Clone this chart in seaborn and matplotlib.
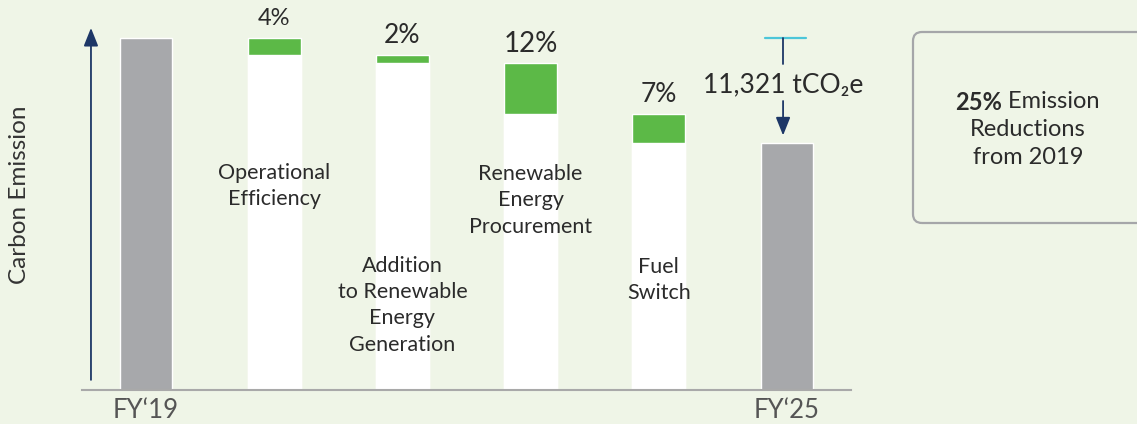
import numpy as np
import pandas as pd
import matplotlib.pyplot as plt
import seaborn as sns
from matplotlib.patches import FancyBboxPatch
from matplotlib.transforms import IdentityTransform

# data: emission level as % of FY'19, reductions
categories = ["FY‘19", "Operational\nEfficiency", "Addition\nto Renewable\nEnergy\nGeneration",
              "Renewable\nEnergy\nProcurement", "Fuel\nSwitch", "FY‘25"]
reductions = [4, 2, 12, 7]
start_level = 100
final_label = "11,321 tCO₂e"
box_lines = ["25%", "Emission", "Reductions", "from 2019"]

levels = [start_level]
for r in reductions:
    levels.append(levels[-1] - r)

df = pd.DataFrame({
    "step": categories,
    "total": [levels[0]] + [np.nan] * 4 + [levels[-1]],
    "before": [np.nan] + levels[:4] + [np.nan],
    "after": [np.nan] + levels[1:] + [np.nan],
})

BG = "#eff5e7"
GREEN = "#5cb947"
GREY = "#a7a8ab"
NAVY = "#1d3767"
CYAN = "#4cc6d9"
TXT = "#2b2b2b"

sns.set_style("white")
plt.rcParams["font.family"] = ["Lato", "DejaVu Sans"]

fig = plt.figure(figsize=(11.37, 4.24), dpi=100, facecolor=BG)
ax = fig.add_axes([82 / 1137, 34 / 424, 769 / 1137, 370 / 424])
ax.set_facecolor(BG)

w = 0.41
sns.barplot(data=df, x="step", y="before", order=categories, color=GREEN,
            width=w, saturation=1, errorbar=None, ax=ax)
sns.barplot(data=df, x="step", y="after", order=categories, color="white",
            width=w, saturation=1, errorbar=None, ax=ax)
sns.barplot(data=df, x="step", y="total", order=categories, color=GREY,
            width=w, saturation=1, errorbar=None, ax=ax)

ymin = 100 - 352 / 4.2
ax.set_ylim(ymin, ymin + 370 / 4.2)
ax.set_xlim(-0.5, 5.5)

# percent labels above green segments
pct_sizes = [17, 19, 20, 19]
for i, r in enumerate(reductions):
    ax.annotate(f"{r}%", xy=(i + 1, levels[i]), xytext=(0, 14), textcoords="offset points",
                ha="center", va="center", fontsize=pct_sizes[i], color=TXT, annotation_clip=False)

# step names inside the white bars
name_y = [64.8, 36.4, 61.4, 42.4]
for i, yv in enumerate(name_y):
    ax.text(i + 1, yv, categories[i + 1], ha="center", va="center", fontsize=15.5,
            color=TXT, linespacing=1.4)

# axes, ticks
ax.set_xticks(np.arange(-0.5, 6, 1))
ax.set_xticklabels([])
ax.set_xticks([0, 5], minor=True)
ax.set_xticklabels([categories[0], categories[-1]], minor=True, fontsize=18.5, color="#555555")
ax.tick_params(axis="x", which="major", length=4, width=1.3, color="#a9a9a9", direction="out")
ax.tick_params(axis="x", which="minor", length=0, pad=6)
ax.set_yticks([])
ax.set_xlabel("")
ax.set_ylabel("")
for s in ["left", "top", "right"]:
    ax.spines[s].set_visible(False)
ax.spines["bottom"].set_color("#a9a9a9")
ax.spines["bottom"].set_linewidth(1.5)

# left arrow
ax.annotate("", xy=(-0.43, 102.4), xytext=(-0.43, 18.6), annotation_clip=False,
            arrowprops=dict(arrowstyle="-|>,head_length=0.55,head_width=0.22", mutation_scale=20,
                            color=NAVY, lw=1.3, shrinkA=0, shrinkB=0))

# FY'25 callout
ax.plot([4.83, 5.15], [levels[0], levels[0]], color=CYAN, lw=1.6, clip_on=False)
ax.plot([4.97, 4.97], [levels[0], 93.8], color=NAVY, lw=1.3, clip_on=False)
ax.text(4.97, 88.8, final_label, ha="center", va="center", fontsize=19, color=TXT)
ax.annotate("", xy=(4.97, 76.8), xytext=(4.97, 85.0), annotation_clip=False,
            arrowprops=dict(arrowstyle="-|>,head_length=0.55,head_width=0.22", mutation_scale=20,
                            color=NAVY, lw=1.3, shrinkA=0, shrinkB=0))

fig.text(20 / 1137, 1 - 195 / 424, "Carbon Emission", rotation=90, ha="center", va="center",
         fontsize=17.5, color="#333333")

# summary box on the right
box = FancyBboxPatch((913, 424 - 223), 260, 191, boxstyle="round,pad=0,rounding_size=9",
                     transform=IdentityTransform(), facecolor="none", edgecolor="#a5a6a9", lw=1.6)
fig.patches.append(box)
t1 = fig.text(955 / 1137, 1 - 102 / 424, box_lines[0], fontsize=17, fontweight="bold",
              color=TXT, ha="left", va="center")
ax.annotate(" " + box_lines[1], xy=(1, 0.5), xycoords=t1, fontsize=17, color=TXT,
            ha="left", va="center", annotation_clip=False)
fig.text(1028 / 1137, 1 - 130 / 424, box_lines[2], fontsize=17, color=TXT, ha="center", va="center")
fig.text(1028 / 1137, 1 - 157 / 424, box_lines[3], fontsize=17, color=TXT, ha="center", va="center")

fig.savefig("out.png", dpi=100, facecolor=BG)
